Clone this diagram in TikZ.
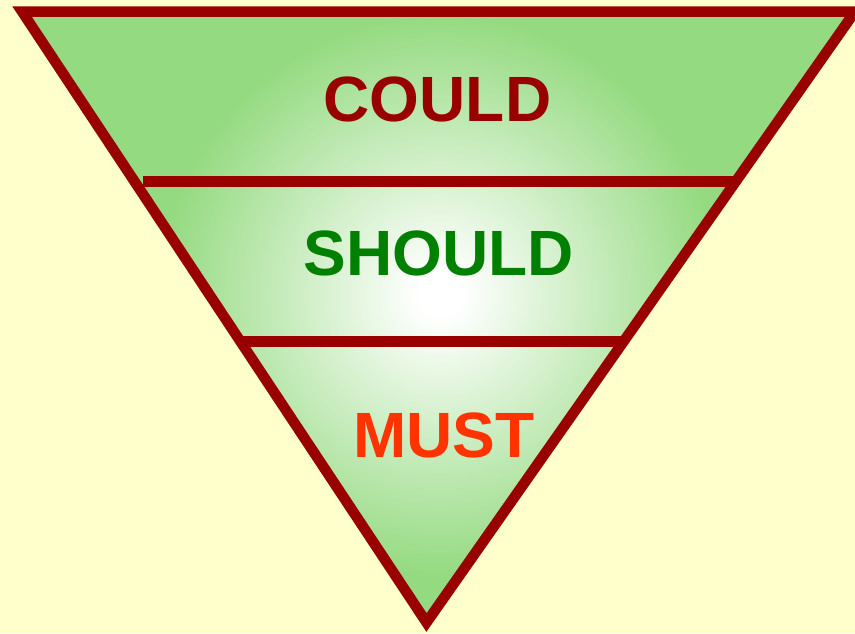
\documentclass[tikz,border=0pt]{standalone}
\usepackage{fontspec}
\setmainfont{Liberation Sans}
\definecolor{bgyellow}{RGB}{255,255,204}
\definecolor{edgered}{RGB}{153,0,0}
\definecolor{fillgreen}{RGB}{148,218,128}
\definecolor{couldred}{RGB}{153,0,0}
\definecolor{shouldgreen}{RGB}{0,128,0}
\definecolor{mustred}{RGB}{255,51,0}
\pgfdeclareradialshading{greenglow}{\pgfpoint{0bp}{0bp}}{%
  color(0bp)=(white); color(1bp)=(white); color(13.5bp)=(fillgreen); color(50bp)=(fillgreen)}
\tikzset{
  edge/.style={draw=edgered, line width=10.5pt, line join=miter},
  divider/.style={draw=edgered, line width=10.5pt, line cap=butt},
  label/.style={inner sep=0pt, font=\fontsize{64}{64}\selectfont\bfseries}
}
\begin{document}
\begin{tikzpicture}[x=1pt,y=-1pt]
  \fill[bgyellow] (0,0) rectangle (855,633);
  \useasboundingbox (0,0) rectangle (855,633);
  \coordinate (tl) at (22,11.5);
  \coordinate (tr) at (855,11.5);
  \coordinate (tip) at (426.5,622.5);
  \coordinate (d1l) at (143,181.5);
  \coordinate (d1r) at (736,181.5);
  \coordinate (d2l) at (240,341.7);
  \coordinate (d2r) at (624,341.7);
  \begin{scope}
    \clip (tl) -- (tr) -- (tip) -- cycle;
    \shade[shading=greenglow] (-80,-225) rectangle (960,815);
  \end{scope}
  \draw[divider] (d1l) -- (d1r);
  \draw[divider] (d2l) -- (d2r);
  \draw[edge] (tl) -- (tr) -- (tip) -- cycle;
  \node[label, text=couldred] (could) at (437.5,99) {COULD};
  \node[label, text=shouldgreen] (should) at (439,253) {SHOULD};
  \node[label, text=mustred] (must) at (444,435) {MUST};
\end{tikzpicture}
\end{document}
